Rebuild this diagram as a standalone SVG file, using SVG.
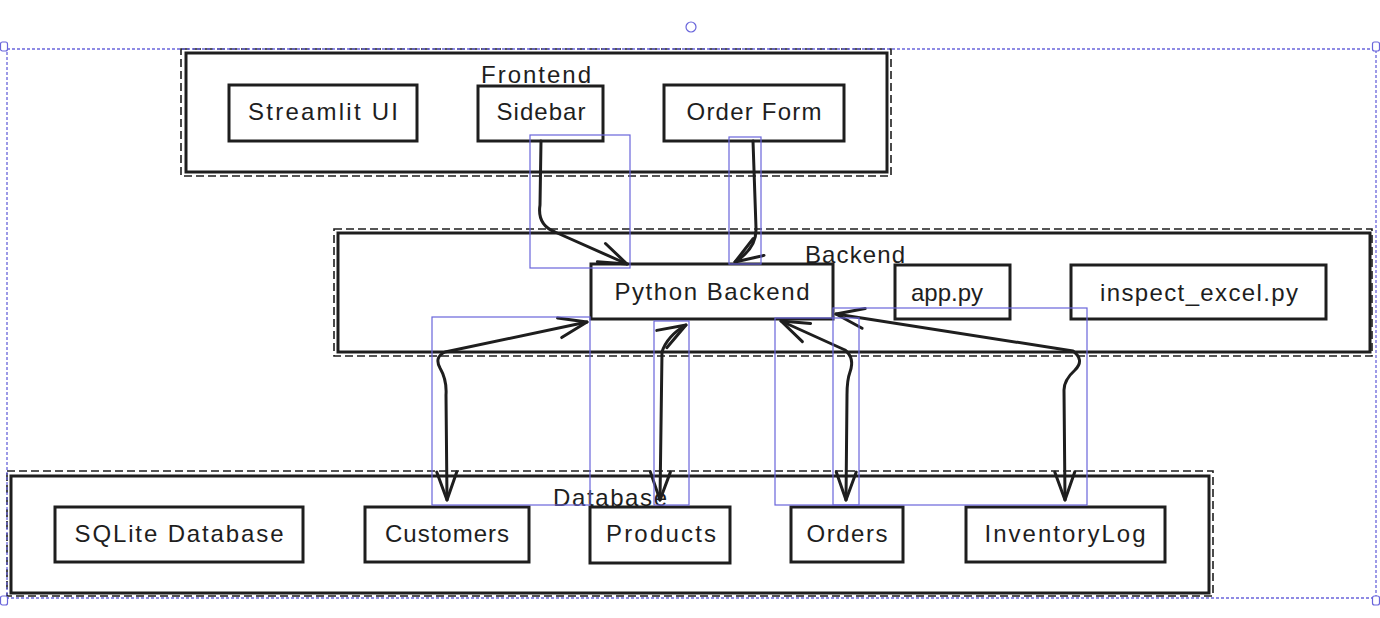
<svg xmlns="http://www.w3.org/2000/svg" width="1380" height="618" viewBox="0 0 1380 618">
<style>
.grp{fill:none;stroke:#1e1e1e;stroke-width:1.6;stroke-dasharray:8 4}
.gin{fill:#fff;stroke:#1e1e1e;stroke-width:3}
.box{fill:#fff;stroke:#1e1e1e;stroke-width:3}
.t{font-family:"Liberation Sans",Arial,sans-serif;font-size:24px;fill:#1e1e1e;dominant-baseline:central;text-anchor:middle}
.lbl{font-family:"Liberation Sans",Arial,sans-serif;font-size:24px;fill:#1e1e1e;text-anchor:start}
.sel{fill:none;stroke:#6965db;stroke-width:1.2}
.outer{fill:none;stroke:#6965db;stroke-width:1.3;stroke-dasharray:3 2}
.hdl{fill:#fff;stroke:#6965db;stroke-width:1.2}
.conn{fill:none;stroke:#1e1e1e;stroke-width:3;stroke-linecap:round;stroke-linejoin:round}
</style>
<defs>
<marker id="ah" viewBox="-32 -14 36 28" refX="0" refY="0" markerWidth="36" markerHeight="28" markerUnits="userSpaceOnUse" orient="auto-start-reverse">
<path d="M-28 -10 L0 0 L-28 10" fill="none" stroke="#1e1e1e" stroke-width="3" stroke-linecap="round" stroke-linejoin="round"/>
</marker>
</defs>
<rect width="1380" height="618" fill="#fff"/>

<g id="frontend">
<rect class="grp" x="181" y="49" width="710" height="127"/>
<rect class="gin" x="186" y="53" width="701" height="119"/>
<text class="lbl" x="481" y="83" textLength="110">Frontend</text>
</g>
<g id="backend">
<rect class="grp" x="334" y="229" width="1038" height="127"/>
<rect class="gin" x="338" y="233" width="1032" height="119"/>
<text class="lbl" x="805" y="263" textLength="100">Backend</text>
</g>
<g id="database">
<rect class="grp" x="7" y="471" width="1206" height="125"/>
<rect class="gin" x="11" y="476" width="1198" height="117"/>
</g>

<g id="streamlit-ui"><rect class="box" x="229" y="85" width="188" height="56"/><text class="t" x="323" y="111" textLength="150">Streamlit UI</text></g>
<g id="sidebar"><rect class="box" x="478" y="86" width="125" height="55"/><text class="t" x="541" y="111" textLength="89">Sidebar</text></g>
<g id="order-form"><rect class="box" x="664" y="85" width="180" height="56"/><text class="t" x="754" y="111" textLength="135">Order Form</text></g>

<g id="python-backend"><rect class="box" x="591" y="264" width="242" height="55"/><text class="t" x="712" y="291" textLength="195">Python Backend</text></g>
<g id="app-py"><rect class="box" x="895" y="265" width="115" height="54"/><text class="t" x="947" y="292">app.py</text></g>
<g id="inspect-excel"><rect class="box" x="1071" y="265" width="255" height="54"/><text class="t" x="1199" y="292" textLength="198">inspect_excel.py</text></g>

<g id="sqlite"><rect class="box" x="55" y="507" width="248" height="55"/><text class="t" x="179" y="533" textLength="209">SQLite Database</text></g>
<g id="customers"><rect class="box" x="365" y="507" width="164" height="55"/><text class="t" x="447" y="533" textLength="124">Customers</text></g>
<g id="products"><rect class="box" x="590" y="507" width="140" height="56"/><text class="t" x="661" y="533" textLength="110">Products</text></g>
<g id="orders"><rect class="box" x="791" y="507" width="112" height="55"/><text class="t" x="847" y="533" textLength="81">Orders</text></g>
<g id="inventorylog"><rect class="box" x="966" y="507" width="199" height="55"/><text class="t" x="1065" y="533" textLength="161">InventoryLog</text></g>

<g id="database-label"><text class="lbl" x="553" y="506" textLength="114">Database</text></g>

<g id="connectors">
<path class="conn" d="M541 141 L540 205 Q537 225 555 232 L627 264" marker-end="url(#ah)"/>
<path class="conn" d="M753 141 L756 228 Q757 248 735 262" marker-end="url(#ah)"/>
<path class="conn" d="M587 322 L445 352 Q434 357 440 368 Q447 380 446 395 L447 500" marker-start="url(#ah)" marker-end="url(#ah)"/>
<path class="conn" d="M686 325 Q667 336 662 352 L660 500" marker-start="url(#ah)" marker-end="url(#ah)"/>
<path class="conn" d="M781 321 L845 350 Q855 358 850 372 Q847 380 847 395 L846 500" marker-start="url(#ah)" marker-end="url(#ah)"/>
<path class="conn" d="M836 314 L1073 351 Q1085 360 1075 370 Q1064 380 1064 390 L1065 500" marker-start="url(#ah)" marker-end="url(#ah)"/>
</g>

<g id="selection">
<rect class="sel" x="530" y="135" width="100" height="133"/>
<rect class="sel" x="729" y="137" width="32" height="127"/>
<rect class="sel" x="432" y="317" width="158" height="188"/>
<rect class="sel" x="654" y="321" width="35" height="184"/>
<rect class="sel" x="775" y="318" width="84" height="187"/>
<rect class="sel" x="833" y="308" width="254" height="197"/>
<rect class="outer" x="7" y="49" width="1369" height="549"/>
<rect class="hdl" x="0.5" y="42" width="7" height="9" rx="2"/>
<rect class="hdl" x="1372.5" y="42" width="7" height="9" rx="2"/>
<rect class="hdl" x="0.5" y="596" width="7" height="9" rx="2"/>
<rect class="hdl" x="1372.5" y="596" width="7" height="9" rx="2"/>
<circle class="hdl" cx="691" cy="27" r="5"/>
</g>
</svg>
